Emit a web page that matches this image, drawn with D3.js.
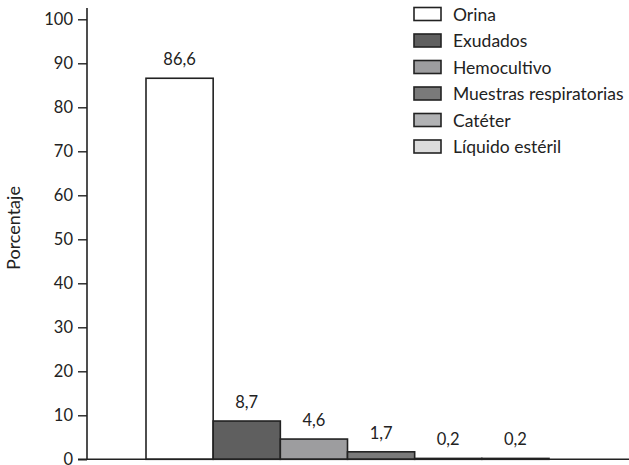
<!DOCTYPE html>
<html><head><meta charset="utf-8">
<script src="https://cdn.jsdelivr.net/npm/d3@7"></script>
<style>body{margin:0;background:#fff}svg{display:block}text{font-family:Lato,"Open Sans",sans-serif;fill:#222}</style>
</head><body><svg id="c" width="629" height="465"></svg>
<script>
const categories = ["Orina","Exudados","Hemocultivo","Muestras respiratorias","Catéter","Líquido estéril"];
const values = [86.6, 8.7, 4.6, 1.7, 0.2, 0.2];
const colors = ["#ffffff","#5f5f5f","#9d9d9f","#7a7a7a","#b1b2b4","#dcdcdc"];
const yTicks = [0,10,20,30,40,50,60,70,80,90,100];
const yLabel = "Porcentaje";

const svg = d3.select("#c");
const x = d3.scaleBand().domain(categories).range([146, 549]).padding(0);
const y = d3.scaleLinear().domain([0, 100]).range([459.3, 19.3]);
const fmt = d => d3.format(".1f")(d).replace(".", ",");

// bars
svg.selectAll("rect.bar").data(categories).join("rect")
  .attr("class","bar")
  .attr("x", d => x(d)).attr("width", x.bandwidth())
  .attr("y", (d,i) => y(values[i])).attr("height", (d,i) => y(0) - y(values[i]))
  .attr("fill", (d,i) => colors[i]).attr("stroke", "#222").attr("stroke-width", 1.6);

// value labels
svg.selectAll("text.val").data(categories).join("text")
  .attr("class","val")
  .attr("x", d => x(d) + x.bandwidth()/2)
  .attr("y", (d,i) => y(values[i]) - 13)
  .attr("text-anchor","middle").attr("font-size", 16.5)
  .text((d,i) => fmt(values[i]));

// y axis
const ax = svg.append("g").attr("transform","translate(87,0)")
  .call(d3.axisLeft(y).tickValues(yTicks).tickSize(9).tickPadding(5));
ax.select(".domain").attr("stroke","#222").attr("stroke-width",1.6).attr("d","M0,8V459.3");
ax.selectAll(".tick line").attr("stroke","#222").attr("stroke-width",1.4);
ax.selectAll(".tick text").attr("font-size",16.5).attr("fill","#222")
  .style("font-family","Lato,'Open Sans',sans-serif");

// x axis baseline
svg.append("line").attr("x1",78).attr("x2",629).attr("y1",y(0)).attr("y2",y(0))
  .attr("stroke","#222").attr("stroke-width",1.6);

// y label
svg.append("text").attr("transform","translate(20,228) rotate(-90)")
  .attr("text-anchor","middle").attr("font-size",18).text(yLabel);

// legend
const lg = svg.append("g");
categories.forEach((c,i) => {
  const yy = 14 + i*26.5;
  lg.append("rect").attr("x",414).attr("y",yy-6.5).attr("width",27).attr("height",13)
    .attr("fill",colors[i]).attr("stroke","#222").attr("stroke-width",1.6);
  lg.append("text").attr("x",453).attr("y",yy+6.5).attr("font-size",17.5).text(c);
});
</script></body></html>
